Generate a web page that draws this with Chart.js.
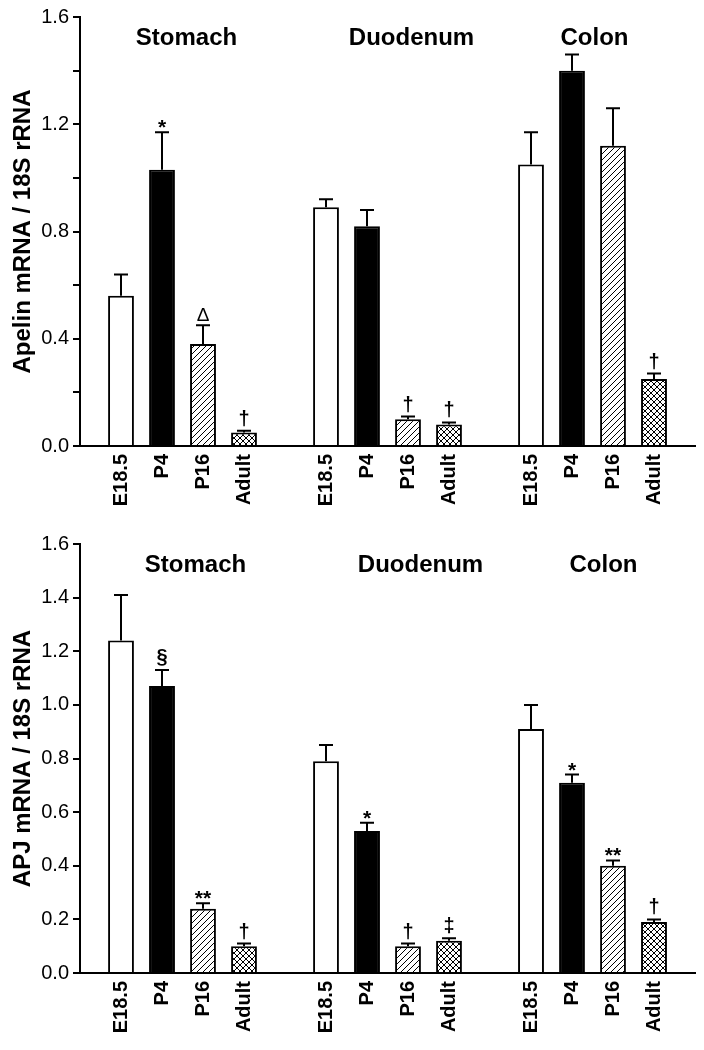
<!DOCTYPE html>
<html lang="en">

<head>
    <meta charset="UTF-8">
    <title>Apelin / APJ mRNA</title>
    <style>
        body { margin: 0; background: #fff; }
        canvas { display: block; }
    </style>
</head>

<body>
    <canvas id="apelin" width="704" height="527"></canvas>
    <canvas id="apj" width="704" height="523"></canvas>

    <script src="https://cdn.jsdelivr.net/npm/chart.js"></script>
    <script>

        const tissues = ['Stomach', 'Duodenum', 'Colon'];
        const stages = ['E18.5', 'P4', 'P16', 'Adult'];

        // Apelin mRNA / 18S rRNA (mean, SEM, significance mark)
        const apelinStomach = [0.56, 1.03, 0.38, 0.05];
        const apelinDuodenum = [0.89, 0.82, 0.10, 0.08];
        const apelinColon = [1.05, 1.40, 1.12, 0.25];
        const apelinStomachSem = [0.08, 0.14, 0.07, 0.007];
        const apelinDuodenumSem = [0.03, 0.06, 0.01, 0.008];
        const apelinColonSem = [0.12, 0.06, 0.14, 0.02];
        const apelinStomachSig = ['', '*', 'Δ', '†'];
        const apelinDuodenumSig = ['', '', '†', '†'];
        const apelinColonSig = ['', '', '', '†'];

        // APJ mRNA / 18S rRNA
        const apjStomach = [1.24, 1.07, 0.24, 0.10];
        const apjDuodenum = [0.79, 0.53, 0.10, 0.12];
        const apjColon = [0.91, 0.71, 0.40, 0.19];
        const apjStomachSem = [0.17, 0.06, 0.02, 0.01];
        const apjDuodenumSem = [0.06, 0.03, 0.01, 0.01];
        const apjColonSem = [0.09, 0.03, 0.02, 0.01];
        const apjStomachSig = ['', '§', '**', '†'];
        const apjDuodenumSig = ['', '*', '†', '‡'];
        const apjColonSig = ['', '*', '**', '†'];

        const FONT = '"Liberation Sans", Arial, sans-serif';

        // one empty slot before, between and after the tissue groups
        function spread(groups, empty) {
            const out = [empty];
            groups.forEach(g => out.push(...g, empty));
            return out;
        }

        function hatch(cross) {
            const c = document.createElement('canvas');
            c.width = 6; c.height = 6;
            const g = c.getContext('2d');
            g.fillStyle = '#fff';
            g.fillRect(0, 0, 6, 6);
            g.strokeStyle = '#000';
            g.lineWidth = 1;
            g.beginPath();
            g.moveTo(-1, 7); g.lineTo(7, -1);
            g.moveTo(-1, 1); g.lineTo(1, -1);
            g.moveTo(5, 7); g.lineTo(7, 5);
            if (cross) {
                g.moveTo(-1, -1); g.lineTo(7, 7);
                g.moveTo(5, -1); g.lineTo(7, 1);
                g.moveTo(-1, 5); g.lineTo(1, 7);
            }
            g.stroke();
            return g.createPattern(c, 'repeat');
        }

        const stageFills = ['#fff', '#000', hatch(false), hatch(true)];
        const xLabels = spread(tissues.map(() => stages), '');
        const fills = spread(tissues.map(() => stageFills), '#fff');

        function panel(id, cfg) {
            const canvas = document.getElementById(id);
            const values = spread(cfg.means, null);
            const sems = spread(cfg.sems, 0);
            const marks = spread(cfg.marks, '');

            const decor = {
                id: 'decor',
                afterDatasetsDraw(chart) {
                    const ctx = chart.ctx;
                    const xs = chart.scales.x;
                    const ys = chart.scales.y;
                    const meta = chart.getDatasetMeta(0);
                    ctx.save();
                    ctx.strokeStyle = '#000';
                    ctx.fillStyle = '#000';
                    ctx.lineWidth = 2;
                    meta.data.forEach((bar, i) => {
                        if (values[i] == null) return;
                        const top = ys.getPixelForValue(values[i] + sems[i]);
                        ctx.beginPath();
                        ctx.moveTo(bar.x, bar.y);
                        ctx.lineTo(bar.x, top);
                        ctx.moveTo(bar.x - 7, top);
                        ctx.lineTo(bar.x + 7, top);
                        ctx.stroke();
                        const m = marks[i];
                        if (m) {
                            if (m === 'Δ') ctx.font = '19px ' + FONT;
                            else if (m.includes('*')) ctx.font = 'bold 21px ' + FONT;
                            else ctx.font = 'bold 20px ' + FONT;
                            ctx.textAlign = 'center';
                            ctx.textBaseline = 'alphabetic';
                            const d = ctx.measureText(m).actualBoundingBoxDescent;
                            ctx.fillText(m, bar.x, top - 4 - d);
                        }
                    });
                    // tissue names over each group
                    ctx.font = 'bold 24px ' + FONT;
                    ctx.textAlign = 'center';
                    ctx.textBaseline = 'middle';
                    tissues.forEach((t, k) => {
                        const x = xs.getPixelForValue(5 * k + 2.5) + cfg.titleNudge[k];
                        ctx.fillText(t, x, ys.getPixelForValue(1.52));
                    });
                    ctx.restore();
                }
            };

            return new Chart(canvas, {
                type: 'bar',
                data: {
                    labels: xLabels,
                    datasets: [{
                        data: values,
                        backgroundColor: fills,
                        borderColor: '#000',
                        borderWidth: 2,
                        barPercentage: 0.63,
                        categoryPercentage: 1
                    }]
                },
                options: {
                    responsive: false,
                    animation: false,
                    layout: { padding: { top: 17, right: 9, left: 0, bottom: 0 } },
                    plugins: { legend: { display: false }, tooltip: { enabled: false } },
                    scales: {
                        x: {
                            offset: false,
                            grid: { display: false, drawTicks: false },
                            border: { display: true, color: '#000', width: 2 },
                            ticks: {
                                autoSkip: false,
                                minRotation: 90,
                                maxRotation: 90,
                                padding: 8,
                                color: '#000',
                                font: { family: FONT, size: 20, weight: 'bold' }
                            },
                            afterFit(scale) {
                                scale.height = canvas.height - 446;
                                scale.paddingLeft = 0;
                                scale.paddingRight = 0;
                            }
                        },
                        y: {
                            min: 0,
                            max: 1.6,
                            grid: { drawOnChartArea: false, color: '#000', lineWidth: 2, tickLength: 7 },
                            border: { display: true, color: '#000', width: 2 },
                            ticks: {
                                stepSize: 0.2,
                                autoSkip: false,
                                padding: 4,
                                color: '#000',
                                font: { family: FONT, size: 20 },
                                callback: (v) => {
                                    const k = Math.round(v * 10);
                                    return (k % cfg.labelEvery === 0) ? (k / 10).toFixed(1) : '';
                                }
                            },
                            title: {
                                display: true,
                                text: cfg.yTitle,
                                color: '#000',
                                font: { family: FONT, size: 24, weight: 'bold' },
                                padding: { top: 9, bottom: 0 }
                            },
                            afterFit(scale) { scale.width = 80; }
                        }
                    }
                },
                plugins: [decor]
            });
        }

        panel('apelin', {
            yTitle: 'Apelin mRNA / 18S rRNA',
            means: [apelinStomach, apelinDuodenum, apelinColon],
            sems: [apelinStomachSem, apelinDuodenumSem, apelinColonSem],
            marks: [apelinStomachSig, apelinDuodenumSig, apelinColonSig],
            labelEvery: 4,
            titleNudge: [4, 24, 2]
        });

        panel('apj', {
            yTitle: 'APJ mRNA / 18S rRNA',
            means: [apjStomach, apjDuodenum, apjColon],
            sems: [apjStomachSem, apjDuodenumSem, apjColonSem],
            marks: [apjStomachSig, apjDuodenumSig, apjColonSig],
            labelEvery: 2,
            titleNudge: [13, 33, 11]
        });

    </script>
</body>

</html>
